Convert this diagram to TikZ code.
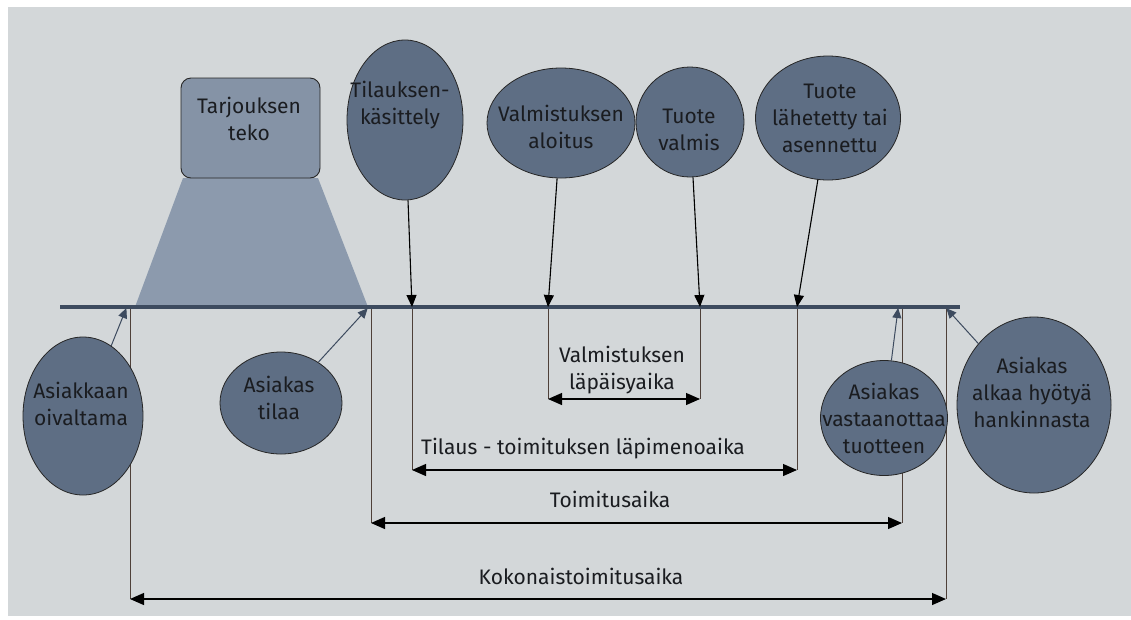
\documentclass[tikz,border=0pt]{standalone}
\usepackage{fontspec}
\setmainfont{Fira Sans}
\usetikzlibrary{arrows.meta,shapes.geometric}
\definecolor{bg}{HTML}{D3D7D9}
\definecolor{efill}{HTML}{5E6E84}
\definecolor{bfill}{HTML}{8593A6}
\definecolor{trapc}{HTML}{8C9AAD}
\definecolor{tlc}{HTML}{3D4B5F}
\definecolor{tickc}{HTML}{4E4039}
\definecolor{txt}{HTML}{1A1C20}
\tikzset{
  ev/.style={ellipse, draw=black!85, line width=0.8pt, fill=efill, inner sep=0pt},
  lbl/.style={font=\fontsize{21}{27}\selectfont, align=center, text=txt, inner sep=0pt},
  tickline/.style={draw=tickc, line width=0.9pt},
  dimarrow/.style={line width=1.2pt, {Triangle[length=14pt,width=12pt]}-{Triangle[length=14pt,width=12pt]}},
  downarrow/.style={line width=1.1pt, -{Triangle[length=12pt,width=10pt]}},
  uparrow/.style={line width=1pt, draw=tlc, -{Triangle[length=10pt,width=9pt]}, shorten >=-1pt}
}
\begin{document}
\begin{tikzpicture}[x=1pt,y=-1pt]
\useasboundingbox (0,0) rectangle (1131,619);
\fill[white] (0,0) rectangle (1131,619);
\fill[bg] (8,7) rectangle (1131,616);

% trapezoid
\fill[trapc] (183,178) -- (318,178) -- (368,307) -- (135,307) -- cycle;

% timeline coordinates
\coordinate (tlL) at (60,307);
\coordinate (tlR) at (960,307);
\coordinate (pA) at (130,307);
\coordinate (pB) at (371,307);
\coordinate (pC) at (412,307);
\coordinate (pD) at (548,307);
\coordinate (pE) at (700,307);
\coordinate (pF) at (797,307);
\coordinate (pG) at (902,307);
\coordinate (pH) at (946,307);
% dimension end coordinates
\coordinate (dD) at (548,399);
\coordinate (dE) at (700,399);
\coordinate (dC) at (412,470);
\coordinate (dF) at (797,470);
\coordinate (dB) at (371,523);
\coordinate (dG) at (902,523);
\coordinate (dA) at (130,599);
\coordinate (dH) at (946,599);

% verticals
\draw[tickline] (pD) -- (dD);
\draw[tickline] (pE) -- (dE);
\draw[tickline] (pC) -- (dC);
\draw[tickline] (pF) -- (dF);
\draw[tickline] (pB) -- (dB);
\draw[tickline] (pG) -- (dG);
\draw[tickline] (pA) -- (dA);
\draw[tickline] (pH) -- (dH);

% dimension arrows
\draw[dimarrow] (dD) -- (dE);
\draw[dimarrow] (dC) -- (dF);
\draw[dimarrow] (dB) -- (dG);
\draw[dimarrow] (dA) -- (dH);

% timeline
\draw[tlc, line width=3.5pt] (tlL) -- (tlR);

% top box
\node[draw=black!85, line width=0.9pt, fill=bfill, rounded corners=10pt, minimum width=139pt, minimum height=100pt, inner sep=0pt] (tarj) at (250.5,128) {};

% top ellipses
\node[ev, minimum width=116pt, minimum height=160pt] (tilk) at (405,120) {};
\node[ev, minimum width=148pt, minimum height=110pt] (valm) at (561,123) {};
\node[ev, minimum width=108pt, minimum height=110pt] (tval) at (690,122) {};
\node[ev, minimum width=145pt, minimum height=124pt] (tlah) at (828,118) {};

% bottom ellipses
\node[ev, minimum width=120pt, minimum height=158pt] (oiv) at (83,416) {};
\node[ev, minimum width=122pt, minimum height=102pt] (atil) at (281,403) {};
\node[ev, minimum width=127pt, minimum height=115pt] (avas) at (884,418) {};
\node[ev, minimum width=154pt, minimum height=176pt] (ahyo) at (1034,405) {};

% arrows from top events
\draw[downarrow] (tilk) -- (pC);
\draw[downarrow] (valm) -- (pD);
\draw[downarrow] (tval) -- (pE);
\draw[downarrow] (tlah) -- (pF);

% arrows from customer events
\coordinate (uA) at (126,309);
\coordinate (uB) at (367,309);
\coordinate (uG) at (898,309);
\coordinate (uH) at (947,309);
\draw[uparrow] (oiv) -- (uA);
\draw[uparrow] (atil) -- (uB);
\draw[uparrow] (avas) -- (uG);
\draw[uparrow] (ahyo) -- (uH);

% labels
\node[lbl] (tarjT) at (249,119) {Tarjouksen\\teko};
\node[lbl] (tilkT) at (400,105) {Tilauksen-\\käsittely};
\node[lbl] (valmT) at (561,127) {Valmistuksen\\aloitus};
\node[lbl] (tvalT) at (689,130) {Tuote\\valmis};
\node[lbl] (tlahT) at (830,118) {Tuote\\lähetetty tai\\asennettu};
\node[lbl] (oivT) at (81,404) {Asiakkaan\\oivaltama};
\node[lbl] (atilT) at (279,398) {Asiakas\\tilaa};
\node[lbl] (avasT) at (884,418) {Asiakas\\vastaanottaa\\tuotteen};
\node[lbl] (ahyoT) at (1032,392) {Asiakas\\alkaa hyötyä\\hankinnasta};

\node[lbl] (lapT) at (622,370) {Valmistuksen\\läpäisyaika};
\node[lbl] (tilT) at (583,449) {Tilaus - toimituksen läpimenoaika};
\node[lbl] (toiT) at (610,499) {Toimitusaika};
\node[lbl] (kokT) at (581,576) {Kokonaistoimitusaika};
\end{tikzpicture}
\end{document}
